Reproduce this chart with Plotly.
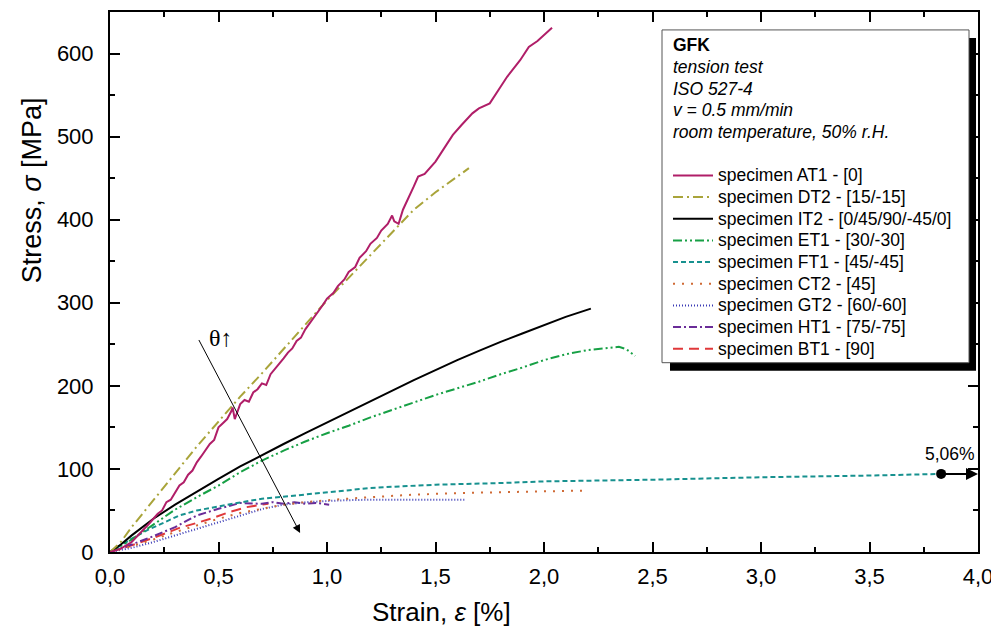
import plotly.graph_objects as go

# ---------------- data (strain %, stress MPa) ----------------
at1_x = [0, 0.05, 0.10, 0.15, 0.18, 0.20, 0.22, 0.24, 0.26, 0.28, 0.30, 0.32, 0.34, 0.36, 0.38, 0.40, 0.42, 0.44,
         0.46, 0.48, 0.50, 0.52, 0.54, 0.56, 0.565, 0.575, 0.60, 0.62, 0.64, 0.66, 0.68, 0.70, 0.72, 0.74, 0.76,
         0.78, 0.80, 0.82, 0.84, 0.86, 0.88, 0.90, 0.92, 0.94, 0.96, 0.98, 1.00, 1.03, 1.05, 1.08, 1.10, 1.13,
         1.15, 1.18, 1.20, 1.23, 1.25, 1.28, 1.30, 1.31, 1.33, 1.35, 1.40, 1.42, 1.45, 1.50, 1.55, 1.58, 1.62,
         1.67, 1.70, 1.75, 1.80, 1.83, 1.89, 1.93, 1.97, 2.00, 2.037]
at1_y = [0, 4, 12, 25, 34, 40, 46, 50, 60, 63, 72, 80, 84, 93, 98, 108, 115, 122,
         130, 135, 150, 155, 160, 170, 174, 160, 178, 183, 181, 192, 196, 203, 201, 214, 220,
         226, 233, 240, 245, 254, 258, 268, 275, 282, 290, 297, 305, 312, 320, 328, 337, 343,
         354, 362, 371, 378, 387, 395, 405, 398, 395, 412, 440, 452, 455, 470, 490, 502, 514,
         528, 534, 540, 560, 572, 592, 608, 615, 622, 631]

dt2_x = [0, 0.05, 0.10, 0.20, 0.30, 0.35, 0.40, 0.50, 0.60, 0.70, 0.80, 0.90, 1.00, 1.10, 1.20, 1.30, 1.40, 1.50,
         1.60, 1.654]
dt2_y = [0, 12, 30, 62, 95, 110, 127, 157, 187, 215, 244, 274, 303, 330, 357, 385, 412, 433, 452, 462]

it2_x = [0, 0.05, 0.10, 0.20, 0.30, 0.40, 0.50, 0.60, 0.70, 0.80, 0.90, 1.00, 1.10, 1.20, 1.30, 1.40, 1.50, 1.60,
         1.70, 1.80, 1.90, 2.00, 2.10, 2.216]
it2_y = [0, 9, 20, 40, 57, 73, 88, 103, 117, 130, 143, 156, 168, 181, 194, 207, 219, 231, 242, 253, 263, 273,
         283, 293]

et1_x = [0, 0.05, 0.10, 0.20, 0.30, 0.40, 0.50, 0.60, 0.70, 0.80, 0.90, 1.00, 1.10, 1.20, 1.30, 1.40, 1.50, 1.60,
         1.70, 1.80, 1.90, 2.00, 2.10, 2.20, 2.30, 2.345, 2.38, 2.42]
et1_y = [0, 7, 15, 33, 51, 66, 80, 96, 110, 122, 133, 143, 152, 162, 171, 180, 189, 197, 205, 214, 222, 231,
         238, 243, 246, 247, 244, 236]

ft1_x = [0, 0.05, 0.10, 0.17, 0.25, 0.32, 0.40, 0.50, 0.585, 0.70, 0.86, 1.00, 1.106, 1.20, 1.336, 1.50, 1.80,
         2.00, 2.50, 3.00, 3.50, 3.83]
ft1_y = [0, 8, 16, 26, 36, 44, 50, 55, 59, 64, 68, 72, 75, 77, 79, 81, 83, 85, 87, 90, 92, 94]

ct2_x = [0, 0.10, 0.20, 0.30, 0.40, 0.50, 0.60, 0.70, 0.80, 0.90, 1.03, 1.20, 1.40, 1.61, 1.80, 2.00, 2.20]
ct2_y = [0, 7, 15, 24, 32, 40, 47, 52, 57, 60, 63, 66, 69, 71, 72, 73, 74]

gt2_x = [0, 0.10, 0.20, 0.30, 0.40, 0.50, 0.60, 0.705, 0.80, 0.91, 1.05, 1.20, 1.40, 1.64]
gt2_y = [0, 5, 12, 20, 28, 36, 44, 52, 57, 60, 62, 63, 63, 63]

ht1_x = [0, 0.10, 0.20, 0.30, 0.40, 0.50, 0.60, 0.70, 0.75, 0.80, 0.85, 0.90, 0.95, 1.01]
ht1_y = [0, 9, 19, 30, 44, 52, 59, 58, 60, 58, 60, 58, 59, 57]

bt1_x = [0, 0.10, 0.20, 0.32, 0.40, 0.475, 0.55, 0.63, 0.70, 0.73]
bt1_y = [0, 8, 17, 29, 35, 41, 48, 54, 57, 58]

names = ["specimen AT1 - [0]", "specimen DT2 - [15/-15]", "specimen IT2 - [0/45/90/-45/0]",
         "specimen ET1 - [30/-30]", "specimen FT1 - [45/-45]", "specimen CT2 - [45]",
         "specimen GT2 - [60/-60]", "specimen HT1 - [75/-75]", "specimen BT1 - [90]"]
colors = ["#B01E68", "#A9A43A", "#000000", "#17A045", "#17918F", "#CF6A35", "#3A3AB5", "#6A2C98", "#E0383A"]
dashes = ["solid", "10px,4px,2px,4px", "solid", "9px,3px,2px,3px,2px,3px", "5px,3px", "2px,7px",
          "1px,2px", "8px,3px,2px,3px", "10px,6px"]
series = [(at1_x, at1_y), (dt2_x, dt2_y), (it2_x, it2_y), (et1_x, et1_y), (ft1_x, ft1_y),
          (ct2_x, ct2_y), (gt2_x, gt2_y), (ht1_x, ht1_y), (bt1_x, bt1_y)]

x_ticks = [0, 0.5, 1.0, 1.5, 2.0, 2.5, 3.0, 3.5, 4.0]
x_ticktext = ["0,0", "0,5", "1,0", "1,5", "2,0", "2,5", "3,0", "3,5", "4,0"]
y_ticks = [0, 100, 200, 300, 400, 500, 600]

header = ["<b>GFK</b>", "<i>tension test</i>", "<i>ISO 527-4</i>", "<i>v = 0.5 mm/min</i>",
          "<i>room temperature, 50% r.H.</i>"]

break_strain = [3.83]
break_stress = [94]
break_label = "5,06%"

FONT = "Liberation Sans, Arial, sans-serif"

fig = go.Figure()
order = [8, 7, 6, 5, 4, 3, 2, 1, 0]
for i in order:
    xs, ys = series[i]
    fig.add_trace(go.Scatter(x=xs, y=ys, mode="lines", name=names[i], showlegend=False,
                             line=dict(color=colors[i], width=2, dash=dashes[i])))

fig.add_trace(go.Scatter(x=break_strain, y=break_stress, mode="markers", showlegend=False,
                         marker=dict(color="black", size=10)))

# plot area in page pixels (page body has an 8px margin)
OFF = 8
L, R, T, B = 110, 978, 10, 552
W, H = 999 - OFF, 637 - OFF


def px(x):
    return (x - L) / (R - L)


def py(y):
    return (B - y) / (B - T)


shapes = []
annotations = []
shapes.append(dict(type="rect", xref="paper", yref="paper", x0=px(670), x1=px(976), y0=py(370), y1=py(36),
                   fillcolor="black", line=dict(width=0), layer="above"))
shapes.append(dict(type="rect", xref="paper", yref="paper", x0=px(662), x1=px(969), y0=py(362), y1=py(28),
                   fillcolor="white", line=dict(color="#555555", width=1), layer="above"))

hy = [43, 65, 87, 108, 130]
for t, yy in zip(header, hy):
    annotations.append(dict(xref="paper", yref="paper", x=px(671), y=py(yy), text=t, showarrow=False,
                            xanchor="left", yanchor="middle", font=dict(family=FONT, size=17.5, color="black")))

for k in range(9):
    yy = 174 + k * 21.75
    shapes.append(dict(type="line", xref="paper", yref="paper", x0=px(673), x1=px(713), y0=py(yy), y1=py(yy),
                       line=dict(color=colors[k], width=2, dash=dashes[k]), layer="above"))
    annotations.append(dict(xref="paper", yref="paper", x=px(716), y=py(yy), text=names[k], showarrow=False,
                            xanchor="left", yanchor="middle", font=dict(family=FONT, size=17.5, color="black")))

# theta arrow
annotations.append(dict(x=0.876, y=23, ax=0.406, ay=257, xref="x", yref="y", axref="x", ayref="y",
                        text="", showarrow=True, arrowhead=2, arrowsize=1.6, arrowwidth=1, arrowcolor="black"))
annotations.append(dict(x=0.51, y=258, xref="x", yref="y", text="θ↑", showarrow=False, xanchor="center",
                        yanchor="middle", font=dict(family="Liberation Serif, Times New Roman, serif", size=24,
                                                     color="black")))
# break arrow
annotations.append(dict(x=4.0, y=94, ax=3.83, ay=94, xref="x", yref="y", axref="x", ayref="y",
                        text="", showarrow=True, arrowhead=2, arrowsize=1.2, arrowwidth=2, arrowcolor="black"))
annotations.append(dict(x=3.87, y=94, xref="x", yref="y", text=break_label, showarrow=False, xanchor="center",
                        yanchor="bottom", yshift=8, font=dict(family=FONT, size=17.5, color="black")))

# axis titles
annotations.append(dict(xref="paper", yref="paper", x=px(441), y=py(612), text="Strain, <i>ε</i> [%]",
                        showarrow=False, xanchor="center", yanchor="middle",
                        font=dict(family=FONT, size=26, color="black")))
annotations.append(dict(xref="paper", yref="paper", x=px(32), y=py(189), text="Stress, <i>σ</i> [MPa]",
                        showarrow=False, xanchor="center", yanchor="middle", textangle=-90,
                        font=dict(family=FONT, size=27, color="black")))

axis_common = dict(showline=True, linewidth=2, linecolor="black", mirror="allticks", ticks="inside",
                   ticklen=10, tickwidth=2, tickcolor="black", showgrid=False, zeroline=False,
                   tickfont=dict(family=FONT, size=22, color="black"))

fig.update_layout(
    width=W, height=H, margin=dict(l=L - OFF, r=999 - R, t=T - OFF, b=637 - B),
    plot_bgcolor="white", paper_bgcolor="white",
    shapes=shapes, annotations=annotations,
    xaxis=dict(range=[0, 4], tickvals=x_ticks, ticktext=x_ticktext, ticklabelstandoff=4,
               minor=dict(ticks="inside", ticklen=5, tickwidth=2, tickcolor="black", dtick=0.25, tick0=0),
               **axis_common),
    yaxis=dict(range=[0, 650], tickvals=y_ticks, ticklabelstandoff=10,
               minor=dict(ticks="inside", ticklen=5, tickwidth=2, tickcolor="black", dtick=50, tick0=0),
               **axis_common),
)

fig.write_html("out.html")
